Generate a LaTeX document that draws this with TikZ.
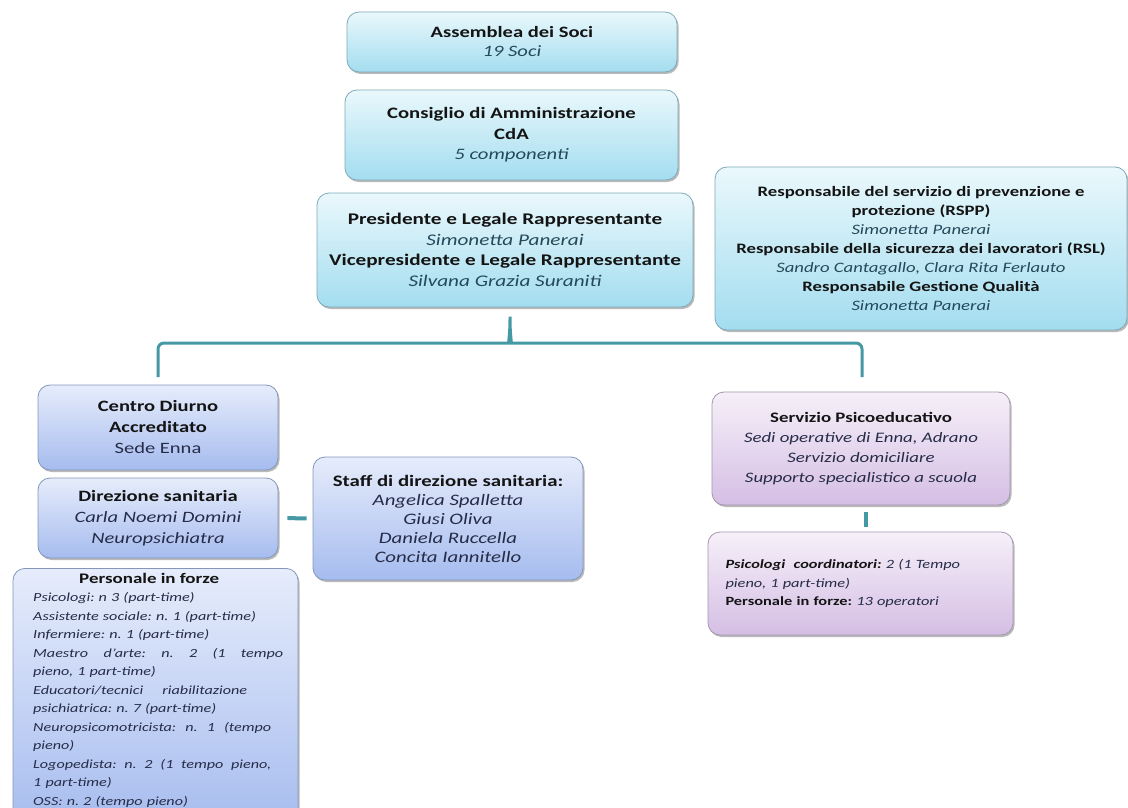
\documentclass[tikz,border=0pt]{standalone}
\usepackage{fontspec}
\setmainfont{Carlito}[FakeStretch=1.3]
\usetikzlibrary{shadows}
\definecolor{cyantop}{HTML}{EAF8FC}
\definecolor{cyanbot}{HTML}{A3DDEF}
\definecolor{cyanedge}{HTML}{7FA9B8}
\definecolor{bluetop}{HTML}{E6ECFB}
\definecolor{bluebot}{HTML}{A6BCEF}
\definecolor{blueedge}{HTML}{8597B8}
\definecolor{purptop}{HTML}{F6F0F9}
\definecolor{purpbot}{HTML}{D5BEE4}
\definecolor{purpedge}{HTML}{A496AE}
\definecolor{teal}{HTML}{4599A5}
\definecolor{ink}{HTML}{141414}
\definecolor{itc}{HTML}{24495A}
\definecolor{itb}{HTML}{262C48}
\newcommand\tline[1]{{\bfseries\color{ink}#1}}
\newcommand\iline[1]{{\itshape #1}}
\newcommand\justline[2]{\makebox[#1][s]{\spaceskip=0.22em plus 1fil\relax #2}}
\frenchspacing
\begin{document}
\begin{tikzpicture}[x=1pt,y=-1pt,
  basebox/.style={line width=0.8pt, rounded corners=12pt, align=center, inner sep=0pt,
    drop shadow={shadow xshift=1.5pt,shadow yshift=-2pt,fill=black!50,opacity=0.55}},
  cyanbox/.style={basebox, draw=cyanedge, top color=cyantop, bottom color=cyanbot, text=itc},
  bluebox/.style={basebox, draw=blueedge, top color=bluetop, bottom color=bluebot, text=itb},
  purpbox/.style={basebox, draw=purpedge, top color=purptop, bottom color=purpbot, text=itb},
  bracket/.style={draw=teal, line width=3pt, rounded corners=6pt},
  link/.style={draw=teal, line width=4pt}
]
\useasboundingbox (0,0) rectangle (1128,808);
\clip (0,0) rectangle (1128,808);

% top column
\node[cyanbox, minimum width=330pt, minimum height=60pt,
  font=\fontsize{15.8}{19}\selectfont] (ass) at (512,42)
  {\tline{Assemblea dei Soci}\\\iline{19 Soci}};
\node[cyanbox, minimum width=333pt, minimum height=90pt,
  font=\fontsize{15.9}{20.5}\selectfont] (cda) at (511.5,135)
  {\tline{Consiglio di Amministrazione}\\\tline{CdA}\\\iline{5 componenti}};
\node[cyanbox, minimum width=376pt, minimum height=114pt,
  font=\fontsize{16.3}{20.5}\selectfont] (pres) at (505,250)
  {\tline{Presidente e Legale Rappresentante}\\\iline{Simonetta Panerai}\\
   \tline{Vicepresidente e Legale Rappresentante}\\\iline{Silvana Grazia Suraniti}};
\node[cyanbox, minimum width=412pt, minimum height=163pt,
  font=\fontsize{14.4}{19}\selectfont] (rspp) at (921,248.5)
  {\tline{Responsabile del servizio di prevenzione e}\\\tline{protezione (RSPP)}\\
   \iline{Simonetta Panerai}\\\tline{Responsabile della sicurezza dei lavoratori (RSL)}\\
   \iline{Sandro Cantagallo, Clara Rita Ferlauto}\\\tline{Responsabile Gestione Qualità}\\
   \iline{Simonetta Panerai}};

% bracket
\coordinate (tip) at (510,313);
\coordinate (bl) at (158,377);
\coordinate (br) at (862,377);
\draw[bracket] (bl) -- (158,343) -- (503,343)
  .. controls (508,343) and (510,336) .. (tip)
  .. controls (510,336) and (512,343) .. (517,343) -- (862,343) -- (br);

% left column
\node[bluebox, minimum width=240pt, minimum height=85pt,
  font=\fontsize{15.8}{21}\selectfont] (cdi) at (158,427.5)
  {\tline{Centro Diurno}\\\tline{Accreditato}\\Sede Enna};
\node[bluebox, minimum width=240pt, minimum height=80pt,
  font=\fontsize{15.8}{21}\selectfont] (dir) at (158,518)
  {\tline{Direzione sanitaria}\\\iline{Carla Noemi Domini}\\\iline{Neuropsichiatra}};
\node[bluebox, minimum width=285pt, minimum height=260pt, anchor=north] (pers) at (155.5,568) {};
\node[anchor=north west, inner sep=0pt, text width=252pt, align=left, text=itb,
  font=\fontsize{12.4}{18.5}\selectfont] (perstext) at (33,573)
  {\makebox[232pt][c]{\fontsize{14.6}{18.5}\selectfont\tline{Personale in forze}}\\
   \itshape Psicologi: n 3 (part-time)\\
   Assistente sociale: n. 1 (part-time)\\
   Infermiere: n. 1 (part-time)\\
   \justline{250pt}{Maestro d'arte: n. 2 (1 tempo}\\
   pieno, 1 part-time)\\
   \justline{214pt}{Educatori/tecnici riabilitazione}\\
   psichiatrica: n. 7 (part-time)\\
   \justline{238pt}{Neuropsicomotricista: n. 1 (tempo}\\
   pieno)\\
   \justline{238pt}{Logopedista: n. 2 (1 tempo pieno,}\\
   1 part-time)\\
   OSS: n. 2 (tempo pieno)};

\node[bluebox, minimum width=270pt, minimum height=123pt,
  font=\fontsize{16}{19}\selectfont] (staff) at (448,518.5)
  {\tline{Staff di direzione sanitaria:}\\\iline{Angelica Spalletta}\\\iline{Giusi Oliva}\\
   \iline{Daniela Ruccella}\\\iline{Concita Iannitello}};
\draw[link, shorten <=9pt, shorten >=6pt] (dir.east) -- (staff.west);

% right column
\node[purpbox, minimum width=298pt, minimum height=113pt,
  font=\fontsize{14.5}{20}\selectfont] (psi) at (861,448.5)
  {\tline{Servizio Psicoeducativo}\\\iline{Sedi operative di Enna, Adrano}\\
   \iline{Servizio domiciliare}\\\iline{Supporto specialistico a scuola}};
\node[purpbox, minimum width=305pt, minimum height=103pt, text width=270pt, align=left,
  font=\fontsize{12.6}{18.5}\selectfont] (coord) at (860.5,583.5)
  {\itshape{\bfseries\color{ink}Psicologi\ \ coordinatori:} 2 (1 Tempo\\
   pieno, 1 part-time)\\
   {\upshape\bfseries\color{ink}Personale in forze:} 13 operatori};
\draw[link, shorten <=7pt, shorten >=5pt] (psi.south -| 866,0) -- (coord.north -| 866,0);
\end{tikzpicture}
\end{document}
